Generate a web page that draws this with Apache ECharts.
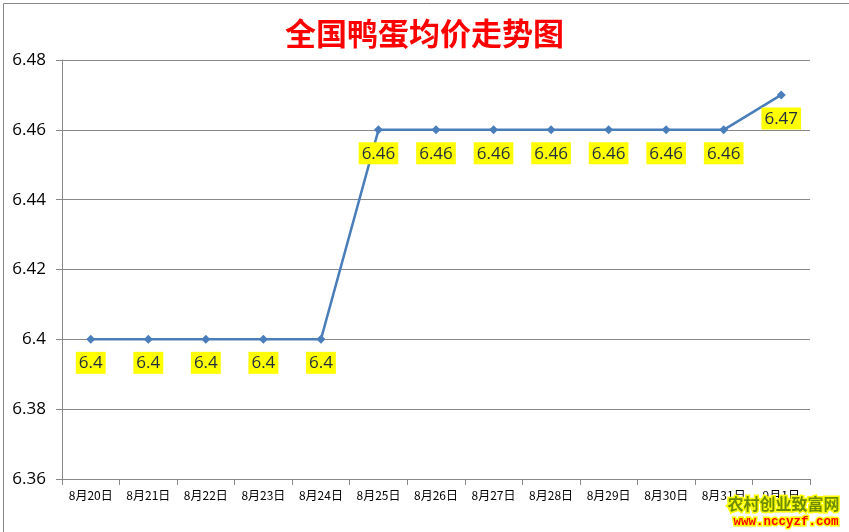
<!DOCTYPE html>
<html lang="zh">
<head>
    <meta charset="UTF-8">
    <title>全国鸭蛋均价走势图</title>
    <script src="https://cdn.jsdelivr.net/npm/echarts@6/dist/echarts.min.js"></script>
    <style>
        html, body { margin: 0; padding: 0; background: #fff; }
        #main { width: 849px; height: 532px; }
    </style>
</head>
<body>
<div id="main"></div>
<script>
    // 数据
    var days = ['8月20日', '8月21日', '8月22日', '8月23日', '8月24日', '8月25日', '8月26日',
        '8月27日', '8月28日', '8月29日', '8月30日', '8月31日', '9月1日'];
    var prices = [6.4, 6.4, 6.4, 6.4, 6.4, 6.46, 6.46, 6.46, 6.46, 6.46, 6.46, 6.46, 6.47];
    var yMin = 6.36, yMax = 6.48, yStep = 0.02;

    var myChart = echarts.init(document.getElementById('main'));

    var option = {
        backgroundColor: '#fff',
        title: {
            text: '全国鸭蛋均价走势图',
            left: 'center',
            top: 13,
            textStyle: {
                color: '#ff0000',
                fontSize: 31,
                fontWeight: 'bold',
                fontFamily: 'Noto Sans CJK SC'
            }
        },
        grid: {
            left: 62,
            right: 39,
            top: 60,
            bottom: 53
        },
        xAxis: {
            type: 'category',
            data: days,
            boundaryGap: true,
            axisLine: { lineStyle: { color: '#888', width: 1 } },
            axisTick: { show: true, alignWithLabel: false, length: 6, lineStyle: { color: '#888' } },
            axisLabel: {
                color: '#000',
                fontSize: 12,
                margin: 10,
                interval: 0,
                fontFamily: 'Noto Sans CJK SC'
            }
        },
        yAxis: {
            type: 'value',
            min: yMin,
            max: yMax,
            interval: yStep,
            axisLine: { show: true, lineStyle: { color: '#888', width: 1 } },
            axisTick: { show: true, length: 6, lineStyle: { color: '#888' } },
            splitLine: { lineStyle: { color: '#888', width: 1 } },
            axisLabel: {
                color: '#000',
                fontSize: 17,
                margin: 16,
                fontFamily: 'Open Sans',
                formatter: function (v) {
                    return String(parseFloat(v.toFixed(2)));
                }
            }
        },
        series: [{
            type: 'line',
            data: prices,
            symbol: 'diamond',
            symbolSize: 9,
            lineStyle: { color: '#4a7ebb', width: 2.5 },
            itemStyle: { color: '#4a7ebb' },
            label: {
                show: true,
                position: 'bottom',
                distance: 8,
                color: '#1f2d3d',
                backgroundColor: '#ffff00',
                padding: [3, 3, 2, 3],
                fontSize: 17,
                fontFamily: 'Open Sans',
                formatter: function (p) {
                    return String(p.value);
                }
            },
            animation: false
        }],
        graphic: [
            {
                type: 'rect',
                left: 1, top: 1,
                shape: { width: 846, height: 529 },
                style: { fill: 'none', stroke: '#888', lineWidth: 1 }
            },
            {
                type: 'text',
                right: 8, top: 494,
                style: {
                    text: '农村创业致富网',
                    fill: '#6e8c00',
                    stroke: '#ffff00',
                    lineWidth: 3,
                    font: 'bold 16px "Noto Sans CJK SC"'
                },
                z: 100
            },
            {
                type: 'text',
                right: 9, top: 514,
                style: {
                    text: 'www.nccyzf.com',
                    fill: '#ff0000',
                    stroke: '#ffff00',
                    lineWidth: 3,
                    font: 'bold 12.5px "Liberation Mono"'
                },
                z: 100
            }
        ]
    };

    myChart.setOption(option);
</script>
</body>
</html>
